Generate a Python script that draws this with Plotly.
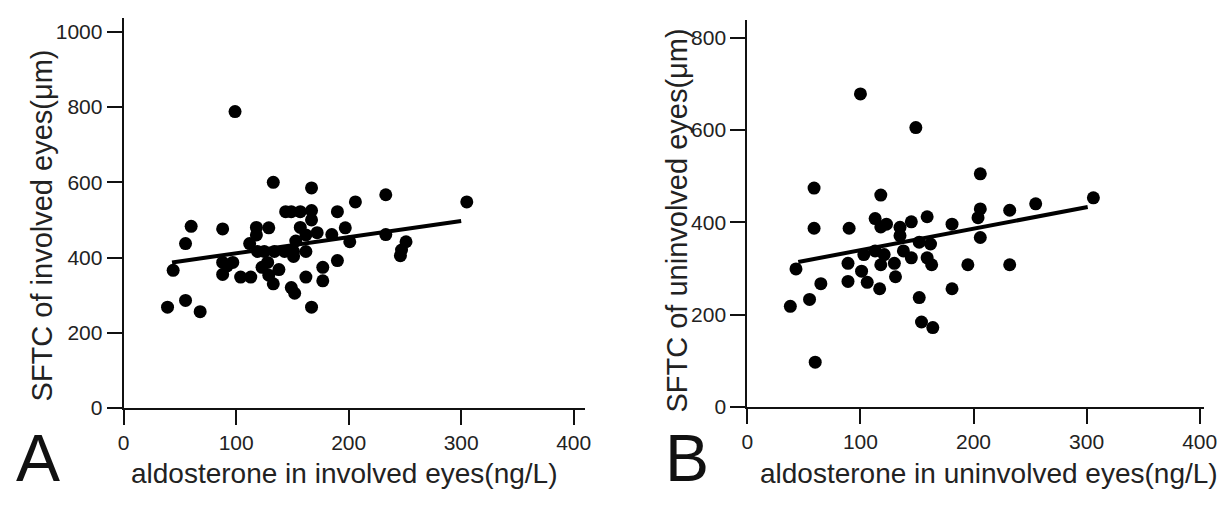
import plotly.graph_objects as go

# ---------------- data ----------------
# Panel A: aldosterone in involved eyes (ng/L) vs SFTC of involved eyes (um)
a_x = [99, 133, 167, 60, 88, 55, 44, 39, 55, 68, 167, 88, 97, 92, 88, 104, 113, 112,
       118, 118, 129, 119, 125, 134, 123, 128, 129, 133, 138, 144, 149, 157, 167, 167,
       157, 162, 153, 143, 151, 151, 162, 172, 149, 152, 162, 177, 177, 190, 185, 190,
       197, 201, 206, 233, 305, 233, 251, 247, 246]
a_y = [788, 600, 585, 483, 476, 437, 366, 268, 286, 256, 268, 387, 387, 378, 355, 348, 348, 437,
       480, 460, 479, 416, 416, 416, 374, 387, 353, 330, 368, 522, 522, 522, 525, 500,
       480, 460, 444, 416, 416, 403, 416, 466, 320, 305, 348, 374, 338, 392, 461, 522,
       479, 442, 548, 567, 548, 461, 442, 420, 405]
a_fit_x = [43, 300]
a_fit_y = [387, 497]

# Panel B: aldosterone in uninvolved eyes (ng/L) vs SFTC of uninvolved eyes (um)
b_x = [100, 149, 59, 118, 59, 90, 113, 118, 123, 135, 135, 145, 159, 181, 43, 38, 55, 65,
       60, 89, 89, 101, 106, 103, 113, 121, 118, 130, 117, 131, 138, 145, 152, 162, 159,
       163, 152, 154, 164, 181, 195, 206, 206, 204, 206, 232, 255, 306, 232]
b_y = [678, 605, 474, 459, 387, 387, 408, 390, 396, 389, 371, 401, 412, 396, 299, 218, 233, 267,
       97, 311, 272, 294, 270, 330, 338, 330, 308, 311, 256, 282, 338, 323, 357, 353, 323,
       308, 237, 184, 172, 256, 308, 505, 429, 410, 367, 426, 440, 453, 308]
b_fit_x = [45, 301]
b_fit_y = [314, 433]

x_ticks = [0, 100, 200, 300, 400]
a_y_ticks = [0, 200, 400, 600, 800, 1000]
b_y_ticks = [0, 200, 400, 600, 800]

x_title_a = "aldosterone in involved eyes(ng/L)"
x_title_b = "aldosterone in uninvolved eyes(ng/L)"
y_title_a = "SFTC of involved eyes(μm)"
y_title_b = "SFTC of uninvolved eyes(μm)"

# ---------------- figure ----------------
W, H = 1229, 507
FONT = "Liberation Sans, Arial, Helvetica, sans-serif"
INK = "#111111"

fig = go.Figure()
marker = dict(color="black", size=13, line=dict(width=0))
fig.add_trace(go.Scatter(x=a_x, y=a_y, mode="markers", marker=marker, xaxis="x", yaxis="y",
                         showlegend=False, hoverinfo="x+y"))
fig.add_trace(go.Scatter(x=a_fit_x, y=a_fit_y, mode="lines", line=dict(color="black", width=4),
                         xaxis="x", yaxis="y", showlegend=False))
fig.add_trace(go.Scatter(x=b_x, y=b_y, mode="markers", marker=marker, xaxis="x2", yaxis="y2",
                         showlegend=False, hoverinfo="x+y"))
fig.add_trace(go.Scatter(x=b_fit_x, y=b_fit_y, mode="lines", line=dict(color="black", width=4),
                         xaxis="x2", yaxis="y2", showlegend=False))

def px_x(p):
    return p / W

def px_y(p):
    return (H - p) / H

axis_common = dict(showline=True, linecolor=INK, linewidth=2, ticks="outside", ticklen=15,
                   tickwidth=2, tickcolor=INK, showgrid=False, zeroline=False,
                   tickfont=dict(family=FONT, size=21, color="#222222"))

fig.update_layout(
    width=W, height=H,
    margin=dict(l=0, r=0, t=0, b=0),
    paper_bgcolor="white", plot_bgcolor="white",
    xaxis=dict(domain=[px_x(119.5), px_x(588)], range=[0, 410], tickvals=x_ticks,
               anchor="y", **axis_common),
    yaxis=dict(domain=[px_y(417), px_y(18)], range=[0, 1038], tickvals=a_y_ticks,
               anchor="x", **axis_common),
    xaxis2=dict(domain=[px_x(753), px_x(1217)], range=[0, 404], tickvals=x_ticks,
                anchor="y2", **axis_common),
    yaxis2=dict(domain=[px_y(416), px_y(20)], range=[0, 839], tickvals=b_y_ticks,
                anchor="x2", **axis_common),
)

xt_font = dict(family=FONT, size=28, color="#222222")
yt_font = dict(family=FONT, size=29, color="#222222")
letter_font = dict(family=FONT, size=66, color="#111111")
annotations = [
    dict(text=x_title_a, x=px_x(343), y=px_y(484), xref="paper", yref="paper",
         xanchor="center", yanchor="middle", showarrow=False, font=xt_font),
    dict(text=x_title_b, x=px_x(998), y=px_y(484), xref="paper", yref="paper",
         xanchor="center", yanchor="middle", showarrow=False, font=xt_font),
    dict(text=y_title_a, x=px_x(37), y=px_y(230), xref="paper", yref="paper",
         xanchor="center", yanchor="middle", textangle=-90, showarrow=False, font=yt_font),
    dict(text=y_title_b, x=px_x(682), y=px_y(225), xref="paper", yref="paper",
         xanchor="center", yanchor="middle", textangle=-90, showarrow=False, font=yt_font),
    dict(text="A", x=px_x(32), y=0, xref="paper", yref="paper", borderpad=0,
         xanchor="center", yanchor="bottom", showarrow=False, font=letter_font),
    dict(text="B", x=px_x(692), y=0, xref="paper", yref="paper", borderpad=0,
         xanchor="center", yanchor="bottom", showarrow=False, font=letter_font),
]
fig.update_layout(annotations=annotations)

fig.write_html("out.html")
